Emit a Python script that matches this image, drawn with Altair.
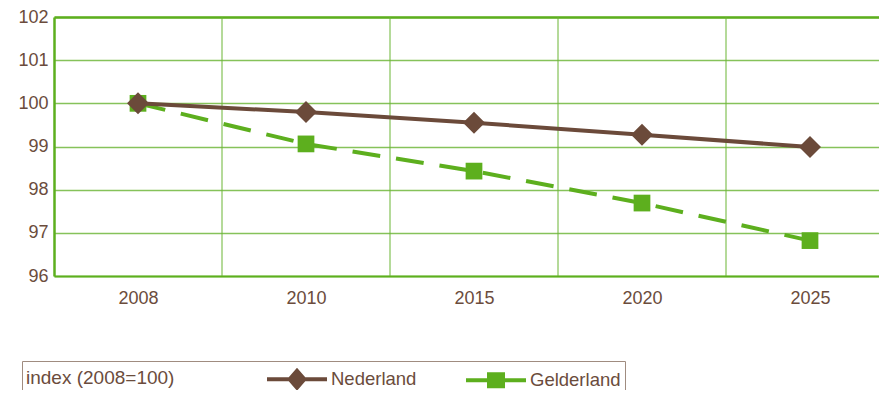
import altair as alt
import pandas as pd

years = ["2008", "2010", "2015", "2020", "2025"]
nederland = [100.0, 99.8, 99.55, 99.27, 98.99]
gelderland = [100.0, 99.06, 98.43, 97.69, 96.82]
series = ["Nederland", "Gelderland"]
band_edges = [0.5, 1.5, 2.5, 3.5]
y_ticks = [96, 97, 98, 99, 100, 101, 102]
legend_title = "index (2008=100)"

BROWN = "#6B4A3A"
GREEN = "#5DAF1E"
TEXT = "#6B4C3C"
FONT = "Liberation Sans"

PLOT_W = 825
STEP = 168

rows = []
for i, (n, g) in enumerate(zip(nederland, gelderland)):
    rows.append({"idx": i, "series": "Nederland", "value": n})
    rows.append({"idx": i, "series": "Gelderland", "value": g})
df = pd.DataFrame(rows)
edges = pd.DataFrame({"edge": band_edges})

# legend glyphs: a 60px line with a marker in the middle; entry height ENTRY_H
ENTRY_H = 28.0
R = ENTRY_H / 2
GLYPH_W = 60.0


def u(px):
    return px / R


def fmt(v):
    return "%.3f" % v


def glyph(kind, hw, hh, lt=2.0):
    x0 = -1.0
    x1 = x0 + u(GLYPH_W)
    cx = x0 + u(GLYPH_W / 2)
    t = u(lt)
    if kind == "diamond":
        j = u(hw) * (1 - t / u(hh))
        pts = [(x0, -t), (cx - j, -t), (cx, -u(hh)), (cx + j, -t), (x1, -t), (x1, t),
               (cx + j, t), (cx, u(hh)), (cx - j, t), (x0, t)]
    else:
        a, b = u(hw), u(hh)
        pts = [(x0, -t), (cx - a, -t), (cx - a, -b), (cx + a, -b), (cx + a, -t), (x1, -t),
               (x1, t), (cx + a, t), (cx + a, b), (cx - a, b), (cx - a, t), (x0, t)]
    return "M" + "L".join(fmt(px) + "," + fmt(py) for px, py in pts) + "Z"


ned_path = glyph("diamond", 10, 11.5)
gel_path = glyph("square", 9, 8)

label_expr = "[" + ",".join("'%s'" % y for y in years) + "][datum.value]"
xscale = alt.Scale(domain=[-0.5, -0.5 + PLOT_W / STEP], nice=False, zero=False)

x_axis = alt.X(
    "idx:Q", scale=xscale,
    axis=alt.Axis(
        title=None, values=list(range(len(years))), labelExpr=label_expr,
        ticks=False, grid=False, labelPadding=13, labelFontSize=18,
        labelColor=TEXT, labelFont=FONT, domainColor=GREEN, domainWidth=2,
        labelFlush=False, labelOverlap=False, orient="bottom",
    ),
)
x = alt.X("idx:Q", scale=xscale, axis=None)
y = alt.Y(
    "value:Q",
    scale=alt.Scale(domain=[96, 102], nice=False, zero=False),
    axis=alt.Axis(
        title=None, values=y_ticks, ticks=False,
        labelPadding=6, labelFontSize=18, labelColor=TEXT, labelFont=FONT,
        grid=True, gridColor="#86C25A", gridWidth=1.5,
        domainColor=GREEN, domainWidth=2.5,
    ),
)

grid_v = alt.Chart(edges).mark_rule(color="#6AB535", strokeWidth=1).encode(
    x=alt.X("edge:Q", scale=xscale,
            axis=alt.Axis(orient="top", labels=False, ticks=False, grid=False, values=[],
                          title=None, domainColor=GREEN, domainWidth=2.5))
)

base = alt.Chart(df)

gel_line = base.transform_filter(alt.datum.series == "Gelderland").mark_line(
    color=GREEN, strokeWidth=4, strokeDash=[28, 16]
).encode(x=x_axis, y=y)
gel_pts = base.transform_filter(alt.datum.series == "Gelderland").mark_point(
    shape="square", filled=True, color=GREEN, size=280, opacity=1
).encode(x=x, y=y)
ned_line = base.transform_filter(alt.datum.series == "Nederland").mark_line(
    color=BROWN, strokeWidth=4
).encode(x=x, y=y)
ned_pts = base.transform_filter(alt.datum.series == "Nederland").mark_point(
    shape="diamond", filled=True, color=BROWN, size=484, opacity=1
).encode(x=x, y=y)

legend = alt.Legend(
    title=legend_title, orient="none", legendX=-32, legendY=344,
    direction="horizontal", titleOrient="left", titlePadding=92,
    titleFontSize=19, titleFontWeight="normal", titleColor=TEXT, titleFont=FONT,
    labelFontSize=18.5, labelColor=TEXT, labelFont=FONT,
    labelOffset=GLYPH_W - ENTRY_H + 4,
    symbolSize=ENTRY_H * ENTRY_H, symbolOpacity=1, symbolStrokeWidth=0,
    columnPadding=49, padding=4, strokeColor="#A08C80", cornerRadius=0,
)
legend_layer = base.mark_point(filled=True, opacity=0).encode(
    x=x, y=y,
    color=alt.Color("series:N", scale=alt.Scale(domain=series, range=[BROWN, GREEN]), legend=legend),
    shape=alt.Shape("series:N", scale=alt.Scale(domain=series, range=[ned_path, gel_path]), legend=legend),
)

chart = alt.layer(grid_v, gel_line, gel_pts, ned_line, ned_pts, legend_layer).resolve_axis(
    x="independent"
).properties(
    width=PLOT_W, height=259,
    autosize=alt.AutoSizeParams(type="none"),
    padding={"left": 46, "top": 9, "right": 0, "bottom": 114},
).configure_view(stroke=None)

chart.save("out.html", embed_options={"renderer": "svg", "actions": False})
